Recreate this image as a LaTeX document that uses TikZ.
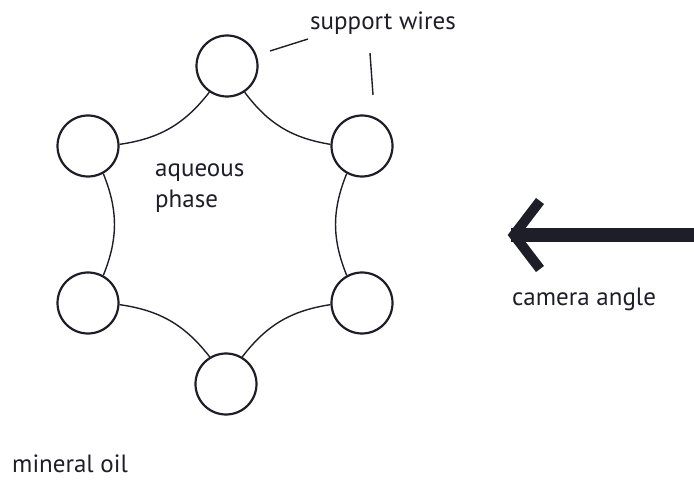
\documentclass[tikz,border=0pt]{standalone}
\usepackage{fontspec}
\setmainfont{PT Sans}
\definecolor{ink}{HTML}{1E1E28}
\begin{document}
\begin{tikzpicture}[x=1pt,y=1pt,
  wirering/.style={circle,draw=ink,line width=2.2pt,minimum size=61pt,inner sep=0pt},
  film/.style={draw=ink,line width=1.4pt},
  leader/.style={draw=ink,line width=1.4pt},
  lbl/.style={text=ink,font=\fontsize{25}{31}\selectfont,inner sep=0pt,anchor=base west}]
\useasboundingbox (0,0) rectangle (694,480);
% circles (y = 480 - pixel y)
\node[wirering] (T)  at (227,414) {};
\node[wirering] (UL) at (88,334) {};
\node[wirering] (UR) at (362,334) {};
\node[wirering] (LL) at (88,177) {};
\node[wirering] (LR) at (362,177) {};
\node[wirering] (B)  at (226,96) {};
% film arcs
\draw[film] (T.236) to[bend left=22] (UL.3);
\draw[film] (UL.299) to[bend left=22] (LL.61);
\draw[film] (LL.357) to[bend left=22] (B.121);
\draw[film] (B.59) to[bend left=22] (LR.183);
\draw[film] (LR.119) to[bend left=22] (UR.241);
\draw[film] (UR.177) to[bend left=22] (T.304);
% labels
\node[lbl] (sw) at (310,450) {support wires};
\node[lbl] (aq1) at (155,303) {aqueous};
\node[lbl] (aq2) at (155,272) {phase};
\node[lbl] (ca) at (512,175) {camera angle};
\node[lbl] (mo) at (12,8) {mineral oil};
% support wire leaders
\coordinate (w1a) at (270,429);
\coordinate (w1b) at (308,441);
\coordinate (w2a) at (370,427);
\coordinate (w2b) at (373,385);
\draw[leader] (w1a) -- (w1b);
\draw[leader] (w2a) -- (w2b);
% camera arrow
\coordinate (arrS) at (694,245);
\coordinate (arrV) at (514,245);
\draw[ink,line width=14pt] (arrS) -- (511,245);
\draw[ink,line width=10pt,miter limit=10] (540,279) -- (arrV) -- (540,211);
\end{tikzpicture}
\end{document}
